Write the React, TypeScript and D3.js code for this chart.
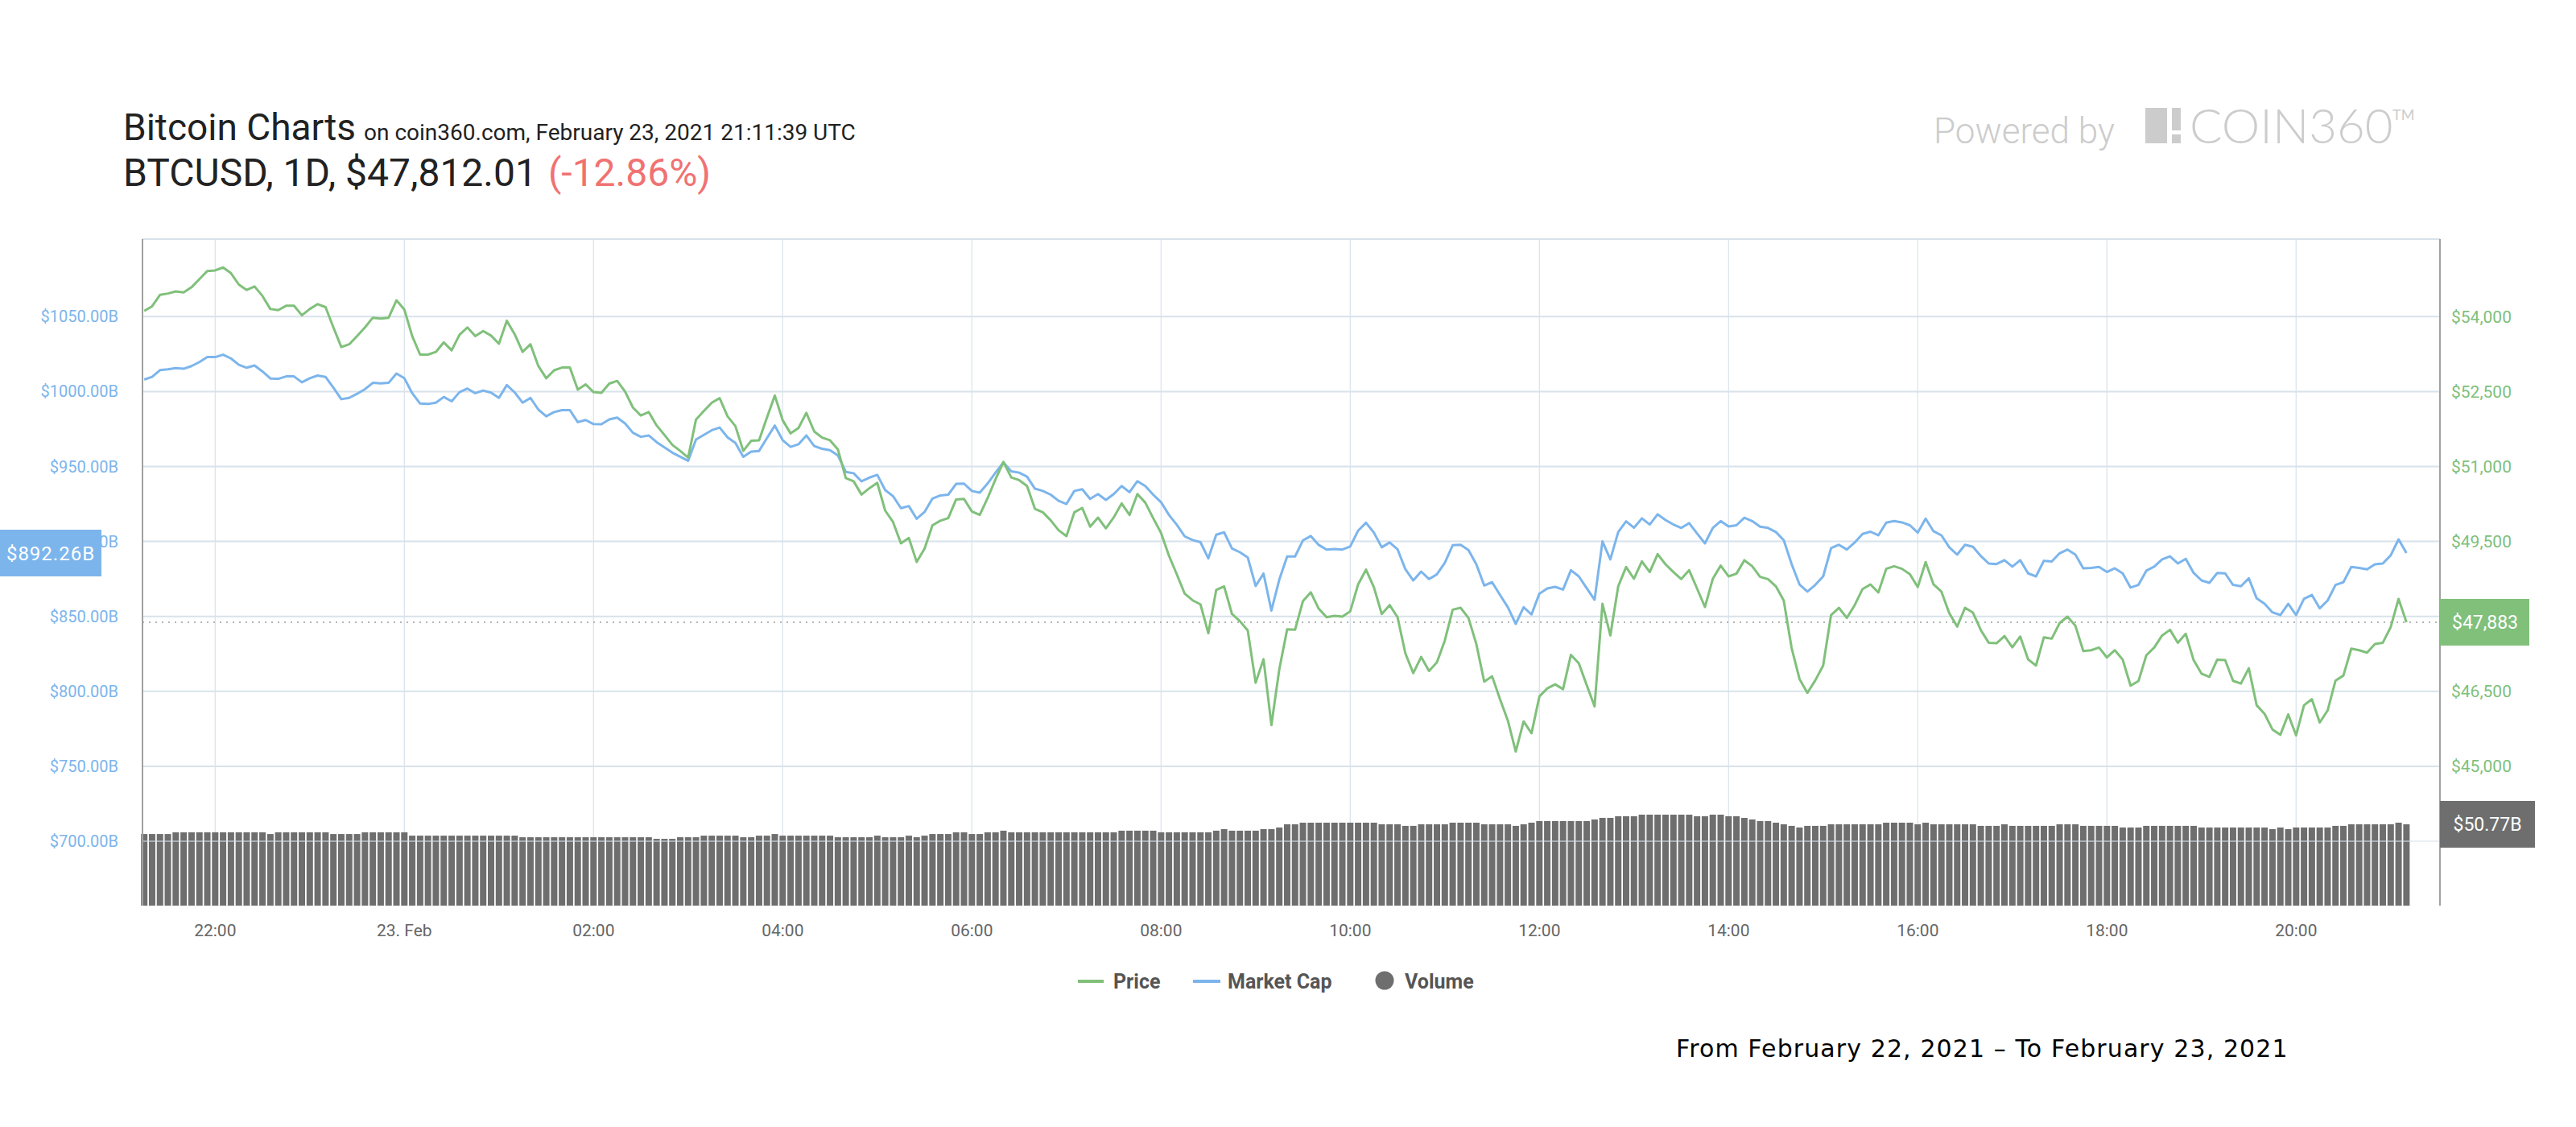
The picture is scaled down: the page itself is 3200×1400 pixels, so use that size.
import * as d3 from "d3";

// 5-minute samples, Feb 22 21:15 UTC .. Feb 23 21:10 UTC
const START = Date.UTC(2021, 1, 22, 21, 15);
const STEP_MS = 5 * 60 * 1000;

const price = [
  54114, 54207, 54435, 54462, 54505, 54484, 54587, 54750, 54913, 54924,
  54984, 54870, 54641, 54533, 54603, 54413, 54152, 54130, 54217, 54217,
  54027, 54152, 54250, 54190, 53783, 53391, 53446, 53609, 53783, 53978,
  53962, 53978, 54326, 54141, 53609, 53239, 53239, 53293, 53484, 53326,
  53636, 53783, 53609, 53712, 53620, 53457, 53918, 53647, 53293, 53446,
  53011, 52766, 52926, 52980, 52980, 52537, 52644, 52489, 52473, 52660,
  52713, 52500, 52180, 52020, 52090, 51823, 51631, 51434, 51312, 51178,
  51940, 52111, 52276, 52367, 52004, 51807, 51312, 51514, 51525, 51978,
  52420, 51924, 51663, 51770, 52074, 51701, 51578, 51525, 51344, 50768,
  50704, 50438, 50566, 50672, 50118, 49889, 49462, 49569, 49089, 49356,
  49825, 49915, 49966, 50341, 50352, 50100, 50030, 50368, 50743, 51091,
  50780, 50727, 50609, 50154, 50084, 49923, 49725, 49607, 50084, 50170,
  49795, 49977, 49763, 49982, 50261, 50030, 50448, 50277, 49966, 49671,
  49216, 48841, 48455, 48322, 48241, 47663, 48530, 48600, 48048, 47904,
  47716, 46672, 47143, 45825, 46939, 47743, 47732, 48305, 48482, 48155,
  47984, 48011, 47995, 48102, 48640, 48935, 48586, 48048, 48226, 47984,
  47258, 46866, 47188, 46909, 47081, 47516, 48134, 48172, 47968, 47446,
  46694, 46801, 46344, 45914, 45296, 45898, 45662, 46398, 46559, 46640,
  46543, 47231, 47059, 46624, 46199, 48253, 47618, 48602, 48989, 48753,
  49102, 48887, 49247, 49043, 48887, 48747, 48925, 48559, 48188, 48753,
  49016, 48801, 48855, 49124, 49005, 48790, 48747, 48602, 48317, 47366,
  46747, 46468, 46721, 47016, 48027, 48172, 47968, 48226, 48548, 48640,
  48479, 48952, 49005, 48952, 48844, 48586, 49086, 48640, 48495, 48065,
  47796, 48172, 48075, 47726, 47473, 47463, 47608, 47382, 47597, 47140,
  47016, 47581, 47554, 47866, 47995, 47812, 47307, 47323, 47376, 47178,
  47323, 47135, 46613, 46705, 47221, 47376, 47618, 47731, 47473, 47651,
  47124, 46855, 46790, 47135, 47124, 46710, 46656, 46963, 46221, 46049,
  45737, 45629, 46038, 45619, 46221, 46344, 45877, 46118, 46715, 46817,
  47355, 47323, 47274, 47446, 47473, 47785, 48350, 47883,
];

// billions of USD
const marketCap = [
  1008.0, 1009.8, 1014.3, 1014.8, 1015.6, 1015.2, 1017.0, 1019.7, 1023.0, 1023.0,
  1024.6, 1022.1, 1017.9, 1015.9, 1017.4, 1013.4, 1008.7, 1008.5, 1010.1, 1010.1,
  1006.2, 1008.9, 1010.7, 1009.8, 1002.5, 994.9, 995.8, 998.5, 1001.6, 1005.8,
  1005.4, 1005.8, 1012.0, 1008.9, 998.9, 992.0, 991.7, 992.6, 996.4, 993.5,
  999.6, 1002.0, 998.9, 1000.7, 999.3, 995.8, 1004.3, 999.4, 992.6, 995.7,
  988.0, 983.5, 986.3, 987.6, 987.6, 979.6, 981.0, 978.3, 978.2, 981.4,
  982.6, 978.7, 972.5, 969.8, 970.7, 966.3, 962.7, 959.2, 956.5, 953.8,
  968.0, 971.1, 974.2, 976.0, 969.5, 965.7, 956.5, 960.0, 960.4, 968.9,
  977.3, 967.5, 963.1, 964.8, 970.7, 963.6, 961.8, 960.9, 957.4, 946.4,
  945.5, 940.1, 942.6, 944.4, 934.3, 930.2, 922.2, 923.6, 915.1, 919.7,
  928.6, 930.7, 931.2, 938.4, 938.6, 933.7, 932.5, 938.7, 945.9, 952.7,
  946.8, 945.9, 943.2, 935.2, 933.7, 931.2, 927.1, 925.0, 933.7, 934.8,
  928.4, 931.6, 927.7, 931.6, 937.0, 932.9, 940.2, 937.0, 931.2, 926.2,
  917.7, 911.1, 903.4, 900.9, 899.5, 888.7, 904.5, 906.1, 895.3, 892.8,
  889.3, 870.3, 878.6, 853.9, 874.5, 890.0, 890.0, 900.7, 903.6, 897.7,
  894.5, 895.0, 894.6, 896.6, 907.2, 912.5, 905.9, 896.1, 899.3, 894.8,
  881.4, 874.0, 879.9, 874.9, 878.1, 885.7, 897.5, 897.8, 894.3, 884.8,
  870.6, 872.8, 864.3, 856.1, 845.0, 856.1, 851.3, 865.2, 868.6, 869.7,
  867.9, 880.8, 876.7, 868.8, 861.1, 900.0, 888.0, 906.3, 913.4, 909.1,
  915.4, 911.3, 918.1, 914.3, 911.3, 909.0, 912.2, 905.4, 898.7, 909.0,
  913.6, 910.0, 910.8, 915.8, 913.6, 909.9, 909.0, 906.3, 900.9, 884.9,
  871.3, 866.5, 871.0, 876.7, 895.5, 897.8, 894.6, 899.3, 905.0, 906.5,
  904.1, 912.5, 913.6, 912.7, 910.8, 905.9, 915.2, 906.8, 904.1, 896.1,
  891.2, 897.8, 896.4, 890.3, 885.3, 884.9, 887.5, 883.2, 887.5, 878.7,
  876.7, 887.1, 886.6, 892.1, 894.6, 891.2, 882.1, 882.3, 883.0, 879.6,
  882.1, 878.7, 869.2, 871.0, 880.5, 883.2, 888.0, 890.1, 885.3, 888.4,
  879.0, 874.0, 872.4, 879.0, 878.7, 871.0, 870.1, 875.4, 862.0, 858.4,
  852.7, 850.9, 858.4, 850.9, 861.7, 864.3, 855.4, 860.6, 871.0, 872.8,
  883.0, 882.3, 881.4, 884.8, 885.3, 890.7, 901.4, 892.3,
];

// 24h volume, billions of USD
const volume = [
  44.7, 44.7, 44.7, 44.7, 45.8, 45.8, 45.8, 45.8, 45.8, 45.8, 45.8, 45.8,
  45.8, 45.8, 45.8, 45.8, 44.7, 45.8, 45.8, 45.8, 45.8, 45.8, 45.8, 45.8,
  44.7, 44.7, 44.7, 44.7, 45.8, 45.8, 45.8, 45.8, 45.8, 45.8, 43.7, 43.7,
  43.7, 43.7, 43.7, 43.7, 43.7, 43.7, 43.7, 43.7, 43.7, 43.7, 43.7, 43.7,
  42.7, 42.7, 42.7, 42.7, 42.7, 42.7, 42.7, 42.7, 42.7, 42.7, 42.7, 42.7,
  42.7, 42.7, 42.7, 42.7, 42.7, 41.7, 41.7, 41.7, 42.7, 42.7, 42.7, 43.7,
  43.7, 43.7, 43.7, 43.7, 42.7, 42.7, 43.7, 43.7, 44.7, 43.7, 43.7, 43.7,
  43.7, 43.7, 43.7, 43.7, 42.7, 42.7, 42.7, 42.7, 42.7, 43.7, 42.7, 42.7,
  42.7, 43.7, 42.7, 43.7, 44.7, 44.7, 44.7, 45.8, 45.8, 44.7, 44.7, 45.8,
  45.8, 46.8, 45.8, 45.8, 45.8, 45.8, 45.8, 45.8, 45.8, 45.8, 45.8, 45.8,
  45.8, 45.8, 45.8, 45.8, 46.8, 46.8, 46.8, 46.8, 46.8, 45.8, 45.8, 45.8,
  45.8, 45.8, 45.8, 45.8, 46.8, 47.8, 46.8, 46.8, 46.8, 46.8, 47.8, 47.8,
  48.8, 50.8, 50.8, 51.8, 51.8, 51.8, 51.8, 51.8, 51.8, 51.8, 51.8, 51.8,
  51.8, 50.8, 50.8, 50.8, 49.8, 49.8, 50.8, 50.8, 50.8, 50.8, 51.8, 51.8,
  51.8, 51.8, 50.8, 50.8, 50.8, 50.8, 49.8, 50.8, 51.8, 52.8, 52.8, 52.8,
  52.8, 52.8, 52.8, 52.8, 53.8, 54.8, 54.8, 55.8, 55.8, 55.8, 56.8, 56.8,
  56.8, 56.8, 56.8, 56.8, 56.8, 55.8, 55.8, 56.8, 56.8, 55.8, 55.8, 54.8,
  53.8, 52.8, 52.8, 51.8, 50.8, 49.8, 48.8, 49.8, 49.8, 49.8, 50.8, 50.8,
  50.8, 50.8, 50.8, 50.8, 50.8, 51.8, 51.8, 51.8, 51.8, 50.8, 51.8, 50.8,
  50.8, 50.8, 50.8, 50.8, 50.8, 49.8, 49.8, 49.8, 50.8, 49.8, 49.8, 49.8,
  49.8, 49.8, 49.8, 50.8, 50.8, 50.8, 49.8, 49.8, 49.8, 49.8, 49.8, 48.8,
  48.8, 48.8, 49.8, 49.8, 49.8, 49.8, 49.8, 49.8, 49.8, 48.8, 48.8, 48.8,
  48.8, 48.8, 48.8, 48.8, 48.8, 48.8, 47.8, 48.8, 47.8, 48.8, 48.8, 48.8,
  48.8, 48.8, 49.8, 49.8, 50.8, 50.8, 50.8, 50.8, 50.8, 50.8, 51.8, 50.8,
];

const mcTicks = [700, 750, 800, 850, 900, 950, 1000, 1050];
// $48,000 and $43,500 sit under the value flags, so they are left out
const priceTicks = [45000, 46500, 49500, 51000, 52500, 54000];

const lastPrice = 47883;
const lastMarketCap = 892.26;
const lastVolume = 50.77;

const GREEN = "#80c07b";
const BLUE = "#7cb5ec";
const GREY = "#6e6e6e";
const GRID = "#d8e2eb";
const FONT = "Roboto, sans-serif";

const W = 3200;
const H = 1400;
const plot = { left: 177, right: 3031, top: 297, bottom: 1125 };

export default function App() {
  const times = price.map((_, i) => new Date(START + i * STEP_MS));

  const x = d3
    .scaleUtc()
    .domain([new Date(Date.UTC(2021, 1, 22, 22)), new Date(Date.UTC(2021, 1, 23, 20))])
    .range([267.3, 2852.3]);
  const yMc = d3.scaleLinear().domain([700, 1050]).range([1045, 393.3]);
  const yPrice = d3.scaleLinear().domain([43500, 54000]).range([yMc(700), yMc(1050)]);
  const yVol = d3.scaleLinear().domain([0, lastVolume]).range([plot.bottom, 1024]);

  const xTicks = d3.utcHour.every(2)!.range(
    new Date(Date.UTC(2021, 1, 22, 22)),
    new Date(Date.UTC(2021, 1, 23, 20, 1))
  );
  const hm = d3.utcFormat("%H:%M");
  const tickLabel = (d: Date) => (d.getUTCHours() === 0 ? d3.utcFormat("%d. %b")(d) : hm(d));

  const priceLine = d3
    .line<number>()
    .x((_, i) => x(times[i]))
    .y((v) => yPrice(v));
  const mcLine = d3
    .line<number>()
    .x((_, i) => x(times[i]))
    .y((v) => yMc(v));

  const fmtPrice = d3.format(",");

  return (
    <svg
      width={W}
      height={H}
      viewBox={`0 0 ${W} ${H}`}
      style={{ position: "absolute", left: 0, top: 0, background: "#fff" }}
      fontFamily={FONT}
    >
      {/* header */}
      <text x={153} y={174} fontSize={46} fill="#222">
        Bitcoin Charts
        <tspan dx={10} fontSize={28}>on coin360.com, February 23, 2021 21:11:39 UTC</tspan>
      </text>
      <text x={153} y={231} fontSize={48} fill="#222">
        BTCUSD, 1D, $47,812.01
        <tspan dx={14} fill="#f07272">(-12.86%)</tspan>
      </text>

      {/* powered by */}
      <g fill="#cccccc">
        <text x={2402} y={178} fontSize={44} fontWeight={300}>Powered by</text>
        <rect x={2665} y={134} width={27} height={44} />
        <rect x={2698} y={134} width={11} height={28} />
        <rect x={2698} y={167} width={11} height={11} />
        <text x={2720} y={178} fontSize={60} fontWeight={300} fontFamily="Lato, sans-serif">COIN360</text>
        <text x={2972} y={149} fontSize={18} fontFamily="Lato, sans-serif">TM</text>
      </g>

      {/* vertical grid */}
      {xTicks.map((t) => (
        <line key={+t} x1={x(t)} x2={x(t)} y1={plot.top} y2={plot.bottom} stroke={GRID} strokeWidth={1.2} />
      ))}

      {/* volume */}
      <g fill={GREY}>
        {volume.map((v, i) => (
          <rect key={i} x={x(times[i]) - 4} y={yVol(v)} width={8} height={plot.bottom - yVol(v)} />
        ))}
      </g>

      {/* horizontal grid */}
      <line x1={plot.left} x2={plot.right} y1={plot.top} y2={plot.top} stroke={GRID} strokeWidth={2} />
      {mcTicks.map((t) => (
        <line
          key={t}
          x1={plot.left}
          x2={plot.right}
          y1={yMc(t)}
          y2={yMc(t)}
          stroke={GRID}
          strokeWidth={2}
          opacity={t === 700 ? 0.55 : 1}
        />
      ))}

      {/* last price line */}
      <line
        x1={plot.left}
        x2={plot.right}
        y1={yPrice(lastPrice)}
        y2={yPrice(lastPrice)}
        stroke="#b4b4b4"
        strokeWidth={2}
        strokeDasharray="2,6"
      />

      {/* series */}
      <path d={mcLine(marketCap)!} fill="none" stroke={BLUE} strokeWidth={3} strokeLinejoin="round" />
      <path d={priceLine(price)!} fill="none" stroke={GREEN} strokeWidth={3} strokeLinejoin="round" />

      {/* axis lines */}
      <line x1={plot.left} x2={plot.left} y1={plot.top} y2={plot.bottom} stroke="#a0a0a0" strokeWidth={2} />
      <line x1={plot.right} x2={plot.right} y1={plot.top} y2={plot.bottom} stroke="#a0a0a0" strokeWidth={2} />

      {/* left axis */}
      {mcTicks.map((t) => (
        <text key={t} x={147} y={yMc(t)} dy="0.35em" textAnchor="end" fontSize={20} fill={BLUE}>
          {`$${t.toFixed(2)}B`}
        </text>
      ))}

      {/* right axis */}
      {priceTicks.map((t) => (
        <text key={t} x={3045} y={yPrice(t)} dy="0.35em" fontSize={21} fill={GREEN}>
          {`$${fmtPrice(t)}`}
        </text>
      ))}

      {/* x axis */}
      {xTicks.map((t) => (
        <text key={+t} x={x(t)} y={1163} textAnchor="middle" fontSize={21} fill="#666">
          {tickLabel(t)}
        </text>
      ))}

      {/* current value flags */}
      <rect x={0} y={yMc(lastMarketCap) - 29} width={126} height={58} fill={BLUE} />
      <text x={63} y={yMc(lastMarketCap)} dy="0.36em" textAnchor="middle" fontSize={24} fill="#fff" letterSpacing={1}>
        {`$${lastMarketCap.toFixed(2)}B`}
      </text>
      <rect x={plot.right} y={yPrice(lastPrice) - 29} width={111} height={58} fill={GREEN} />
      <text x={plot.right + 56} y={yPrice(lastPrice)} dy="0.36em" textAnchor="middle" fontSize={23} fill="#fff">
        {`$${fmtPrice(lastPrice)}`}
      </text>
      <rect x={plot.right} y={yVol(lastVolume) - 29} width={118} height={58} fill={GREY} />
      <text x={plot.right + 59} y={yVol(lastVolume)} dy="0.36em" textAnchor="middle" fontSize={23} fill="#fff">
        {`$${lastVolume.toFixed(2)}B`}
      </text>

      {/* legend */}
      <g fontSize={25} fontWeight={700} fill="#555">
        <line x1={1339} x2={1371} y1={1219} y2={1219} stroke={GREEN} strokeWidth={4} />
        <text x={1383} y={1228}>Price</text>
        <line x1={1482} x2={1516} y1={1219} y2={1219} stroke={BLUE} strokeWidth={4} />
        <text x={1525} y={1228}>Market Cap</text>
        <circle cx={1720} cy={1218} r={11.5} fill={GREY} />
        <text x={1745} y={1228}>Volume</text>
      </g>

      {/* footer */}
      <text x={2082} y={1313} fontSize={30} letterSpacing={1.1} fontFamily="DejaVu Sans, sans-serif" fill="#000">
        From February 22, 2021 – To February 23, 2021
      </text>
    </svg>
  );
}
